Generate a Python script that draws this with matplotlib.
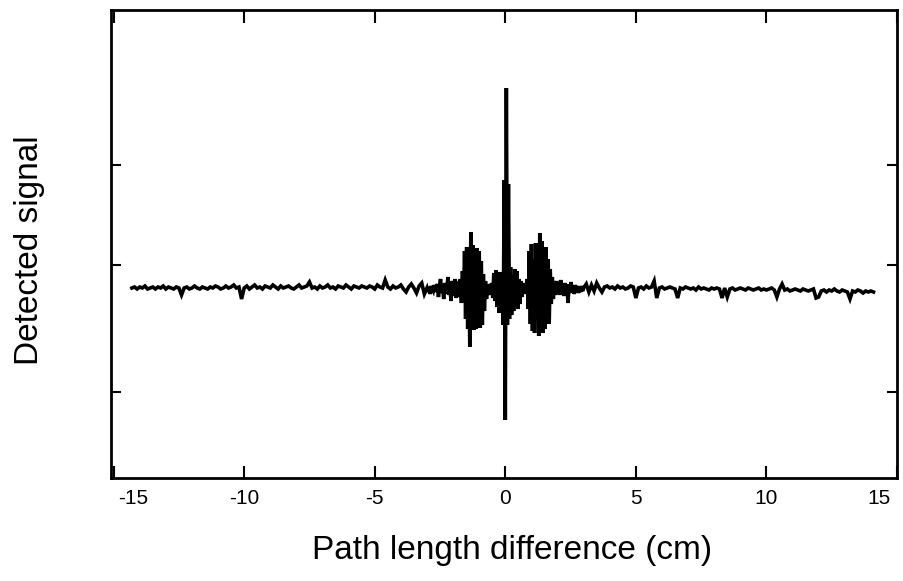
import numpy as np
import matplotlib
matplotlib.use("Agg")
import matplotlib.pyplot as plt
from matplotlib.transforms import ScaledTranslation

# ---------------- data ----------------
# outer left part of the trace: samples from -14.3 cm every 0.1 cm (values in 1/100 units)
left_start, left_step = -14.3, 0.1
left_vals = [1, 2, 0, 2, 1, 3, 0, 1, 2, 0,
             2, 1, 3, 0, 2, 1, 0, 2, 1, -6,
             1, 2, 0, 1, 3, 1, 0, 2, 1, 0,
             2, 1, 3, 2, 0, 1, 3, 1, 2, 4,
             1, 2, -10, 1, 3, 0, 2, 4, 1, 2,
             0, 3, 2, 1, 4, 2, 0, 3, 1, 2,
             3, 1, 0, 2, 4, 1, 2, 3, 7, 1,
             2, 0, 3, 1, 2, 4, 1, 2, 0, 3,
             2, 1, 4, 2, 0, 3, 2, 1, 3, 2,
             1, 3, 2, 0, 4, 2, 1, 9, 2, 0,
             3, 1, 2, 4, 0, -3, 2, 5, 1, -4,
             3, 6, -5]

# central part: samples from -3.0 cm every 0.04 cm
center_start, center_step = -3.0, 0.04
center_vals = [0.01, -0.03, 0.02, -0.05, 0.03, 0.00, -0.02, 0.04, -0.03, 0.01,
               0.05, -0.08, 0.03, 0.10, -0.04, 0.02, -0.10, 0.06, 0.01, -0.05,
               0.12, -0.06, 0.04, -0.12, 0.08, 0.03, -0.07, 0.10, -0.09, 0.05,
               0.06, -0.08, 0.10, -0.14, 0.18, -0.12, 0.38, -0.30, 0.42, -0.40,
               0.35, -0.58, 0.57, -0.38, 0.44, -0.41, 0.30, -0.40, 0.41, -0.28,
               0.38, -0.39, 0.28, -0.36, 0.15, -0.22, 0.08, -0.10, 0.04, -0.06,
               0.05, -0.03, 0.06, -0.09, 0.16, -0.12, 0.19, -0.18, 0.12, -0.24,
               0.17, -0.20, 0.14, -0.36, 1.09, -1.31, 2.01, -0.36, 1.05, -0.30,
               0.22, -0.26, 0.12, -0.22, 0.20, -0.14, 0.18, -0.20, 0.10, -0.15,
               0.08, -0.08, 0.06, -0.05, 0.04, -0.03, 0.10, -0.20, 0.38, -0.35,
               0.45, -0.42, 0.30, -0.44, 0.46, -0.30, 0.44, -0.47, 0.56, -0.40,
               0.48, -0.44, 0.35, -0.40, 0.42, -0.28, 0.30, -0.35, 0.20, -0.15,
               0.12, -0.10, 0.08, -0.06, 0.08, -0.04, 0.05, -0.06, 0.09, -0.03,
               0.04, -0.07, 0.06, -0.02, 0.05, -0.14, 0.03, -0.04, 0.07, -0.03,
               0.02, -0.05, 0.04, -0.02, 0.03, -0.04, 0.02, -0.03, 0.03, -0.02,
               0.01]

# outer right part: samples from 3.1 cm every 0.1 cm (values in 1/100 units)
right_start, right_step = 3.1, 0.1
right_vals = [5, -3, 4, -2, 6, 1, -3, 2, 3, 1,
              2, 0, 3, 1, 2, 0, 1, 3, 2, -9,
              1, 2, 0, 3, 1, 2, 8, -9, 1, 2,
              0, 1, 2, 1, 0, -9, 1, 0, 2, 1,
              0, 1, -1, 2, 0, 1, 0, -1, 1, 0,
              1, 0, -9, 1, -8, 0, 1, -1, 0, 1,
              0, -1, 1, 0, -1, 0, 1, -1, 0, -1,
              0, 1, -1, -8, 0, 5, -1, 0, -2, -1,
              0, -1, -2, 0, -1, -2, -1, 0, -9, -8,
              -2, -1, -3, -1, -2, 0, -2, -3, -1, -2,
              -3, -10, -2, -3, -1, -2, -4, -2, -3, -2, -3]

x_ticks = [-15, -10, -5, 0, 5, 10, 15]
x_ticklabels = ["-15", "-10", "-5", "0", "5", "10", "15"]
y_ticks = [-1.03, 0.24, 1.24]
x_label = "Path length difference (cm)"
y_label = "Detected signal"

# ---------------- assemble ----------------
xl = left_start + left_step * np.arange(len(left_vals))
xc = center_start + center_step * np.arange(len(center_vals))
xr = right_start + right_step * np.arange(len(right_vals))
x = np.concatenate([xl, xc, xr])
y = np.concatenate([np.array(left_vals) / 100.0, np.array(center_vals),
                    np.array(right_vals) / 100.0])

plt.rcParams['font.family'] = ['Liberation Sans', 'DejaVu Sans']

fig = plt.figure(figsize=(9.04, 5.81), dpi=100)
ax = fig.add_axes([111 / 904, 103 / 581, 786 / 904, 468 / 581])

ax.plot(x, y, color='black', linewidth=2.6, solid_joinstyle='miter')

ax.set_xlim(-15.1, 14.9)
ax.set_ylim(-1.89, 2.79)

ax.set_xticks(x_ticks)
ax.set_xticklabels(x_ticklabels)
ax.set_yticks(y_ticks)
ax.set_yticklabels([])

ax.tick_params(axis='x', which='both', direction='in', length=9, width=1.5,
               top=True, bottom=True, labelsize=15, pad=8)
ax.tick_params(axis='y', which='both', direction='in', length=7, width=1.5,
               left=True, right=True)

# edge labels sit a little inward in the original
labels = ax.get_xticklabels()
labels[0].set_transform(labels[0].get_transform() + ScaledTranslation(20 / 100, 0, fig.dpi_scale_trans))
labels[-1].set_transform(labels[-1].get_transform() + ScaledTranslation(-18 / 100, 0, fig.dpi_scale_trans))

for s in ax.spines.values():
    s.set_linewidth(2.0)

ax.set_xlabel(x_label, fontsize=24, va='center')
ax.xaxis.set_label_coords((512 - 111) / 786, (478 - 551) / 468)
ax.set_ylabel(y_label, fontsize=24, va='center', ha='center')
ax.yaxis.set_label_coords((30 - 111) / 786, (478 - 250) / 468)

fig.savefig("out.png", dpi=100)
